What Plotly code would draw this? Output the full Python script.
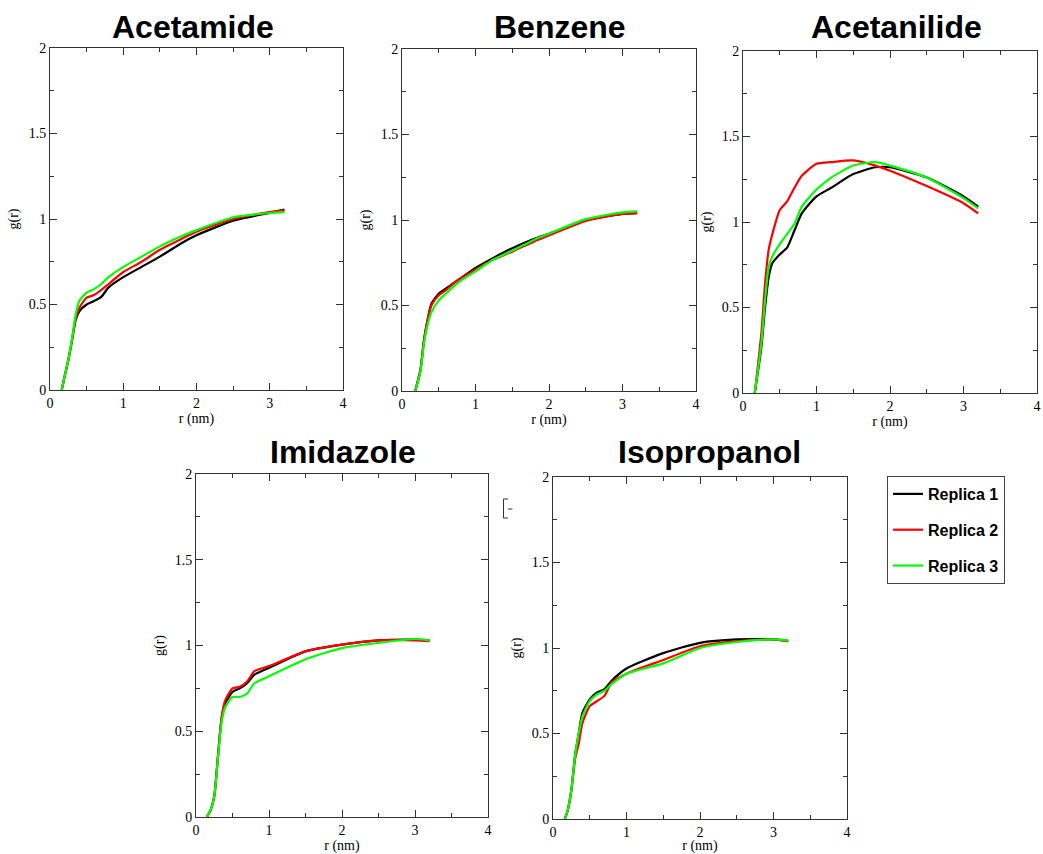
import plotly.graph_objects as go

W, H = 1043, 854

# ---------------- data ----------------
titles = ["Acetamide", "Benzene", "Acetanilide", "Imidazole", "Isopropanol"]
replica_names = ["Replica 1", "Replica 2", "Replica 3"]
replica_colors = ["#000000", "#ff0000", "#00ff00"]

acetamide_r = [0.16, 0.2, 0.25, 0.3, 0.35, 0.4, 0.5, 0.6, 0.7, 0.8, 1.0, 1.25, 1.5, 1.8, 2.0, 2.5, 3.0, 3.2]
acetamide_rep1 = [0, 0.08, 0.175, 0.29, 0.41, 0.46, 0.50, 0.52, 0.545, 0.60, 0.66, 0.72, 0.78, 0.86, 0.905, 0.99, 1.036, 1.055]
acetamide_rep2 = [0, 0.08, 0.175, 0.29, 0.42, 0.48, 0.54, 0.555, 0.585, 0.62, 0.69, 0.75, 0.82, 0.885, 0.925, 1.0, 1.04, 1.05]
acetamide_rep3 = [0, 0.08, 0.175, 0.30, 0.44, 0.52, 0.57, 0.59, 0.62, 0.66, 0.72, 0.78, 0.84, 0.90, 0.935, 1.01, 1.035, 1.04]

benzene_r = [0.18, 0.25, 0.3, 0.35, 0.4, 0.5, 0.6, 0.7, 0.8, 1.0, 1.25, 1.5, 1.8, 2.0, 2.5, 3.0, 3.2]
benzene_rep1 = [0, 0.12, 0.30, 0.42, 0.51, 0.57, 0.60, 0.63, 0.66, 0.72, 0.78, 0.835, 0.89, 0.92, 1.0, 1.035, 1.04]
benzene_rep2 = [0, 0.12, 0.30, 0.42, 0.50, 0.56, 0.59, 0.63, 0.66, 0.71, 0.77, 0.815, 0.875, 0.91, 0.995, 1.035, 1.04]
benzene_rep3 = [0, 0.11, 0.28, 0.39, 0.46, 0.53, 0.57, 0.61, 0.645, 0.70, 0.77, 0.82, 0.885, 0.92, 1.005, 1.045, 1.05]

acetanilide_r = [0.16, 0.25, 0.3, 0.35, 0.4, 0.5, 0.6, 0.7, 0.8, 1.0, 1.2, 1.5, 1.8, 2.0, 2.5, 3.0, 3.2]
acetanilide_rep1 = [0, 0.27, 0.50, 0.68, 0.76, 0.81, 0.85, 0.95, 1.05, 1.15, 1.20, 1.28, 1.32, 1.32, 1.26, 1.15, 1.09]
acetanilide_rep2 = [0, 0.35, 0.64, 0.84, 0.93, 1.07, 1.12, 1.20, 1.27, 1.34, 1.35, 1.36, 1.33, 1.30, 1.21, 1.11, 1.05]
acetanilide_rep3 = [0, 0.29, 0.54, 0.74, 0.80, 0.87, 0.93, 0.99, 1.09, 1.19, 1.26, 1.33, 1.35, 1.33, 1.26, 1.14, 1.08]

imidazole_r = [0.15, 0.2, 0.25, 0.3, 0.35, 0.4, 0.5, 0.6, 0.7, 0.8, 1.0, 1.5, 2.0, 2.5, 3.0, 3.2]
imidazole_rep1 = [0, 0.04, 0.12, 0.35, 0.57, 0.66, 0.73, 0.75, 0.78, 0.83, 0.87, 0.966, 1.005, 1.03, 1.034, 1.03]
imidazole_rep2 = [0, 0.04, 0.12, 0.35, 0.58, 0.68, 0.75, 0.76, 0.79, 0.85, 0.88, 0.966, 1.005, 1.03, 1.03, 1.025]
imidazole_rep3 = [0, 0.04, 0.12, 0.34, 0.55, 0.64, 0.70, 0.70, 0.72, 0.78, 0.82, 0.92, 0.985, 1.015, 1.038, 1.03]

isopropanol_r = [0.16, 0.2, 0.25, 0.3, 0.35, 0.4, 0.5, 0.6, 0.7, 0.8, 1.0, 1.5, 2.0, 2.5, 3.0, 3.2]
isopropanol_rep1 = [0, 0.05, 0.17, 0.37, 0.50, 0.62, 0.70, 0.74, 0.76, 0.81, 0.88, 0.97, 1.03, 1.05, 1.05, 1.04]
isopropanol_rep2 = [0, 0.05, 0.17, 0.35, 0.44, 0.56, 0.66, 0.69, 0.72, 0.80, 0.85, 0.93, 1.01, 1.04, 1.05, 1.04]
isopropanol_rep3 = [0, 0.05, 0.17, 0.37, 0.50, 0.60, 0.69, 0.73, 0.75, 0.79, 0.85, 0.91, 1.00, 1.035, 1.05, 1.045]

x_tick_vals = [0, 1, 2, 3, 4]
y_tick_vals = [0, 0.5, 1, 1.5, 2]
y_tick_text = ["0", "0.5", "1", "1.5", "2"]

panels = [
    (acetamide_r, [acetamide_rep1, acetamide_rep2, acetamide_rep3]),
    (benzene_r, [benzene_rep1, benzene_rep2, benzene_rep3]),
    (acetanilide_r, [acetanilide_rep1, acetanilide_rep2, acetanilide_rep3]),
    (imidazole_r, [imidazole_rep1, imidazole_rep2, imidazole_rep3]),
    (isopropanol_r, [isopropanol_rep1, isopropanol_rep2, isopropanol_rep3]),
]

# ---------------- layout (pixel boxes of each panel, screen coords) ----------------
boxes = [  # left, right, top, bottom in pixels
    (50, 343, 48, 390),
    (402, 696, 49, 391),
    (743, 1037, 51, 393),
    (196, 488, 474, 817),
    (553, 847, 477, 819),
]
title_pos = [(193, 27), (560, 27), (896, 27), (343, 452), (709, 452)]

def px(x):
    return x / W

def py(y):
    return 1 - y / H

fig = go.Figure()
serif = "Liberation Serif, Times New Roman, serif"
sans = "Liberation Sans, Arial, Helvetica, sans-serif"
axcol = "#333333"

for i, (r, reps) in enumerate(panels):
    sfx = "" if i == 0 else str(i + 1)
    for j, vals in enumerate(reps):
        fig.add_trace(go.Scatter(
            x=r, y=vals, mode="lines",
            line=dict(color=replica_colors[j], width=2.2, shape="spline", smoothing=0.6),
            name=f"<b>{replica_names[j]}</b>", legendgroup=f"g{j}",
            showlegend=(i == 0),
            xaxis="x" + sfx, yaxis="y" + sfx,
        ))
    l, rgt, t, b = boxes[i]
    common = dict(showline=True, linecolor=axcol, linewidth=1, mirror="ticks",
                  ticks="inside", tickcolor=axcol, ticklen=7, tickwidth=1,
                  showgrid=False, zeroline=False, automargin=False,
                  tickfont=dict(family=serif, size=14, color="#000000"))
    fig.layout["xaxis" + sfx] = dict(
        common, domain=[px(l), px(rgt)], range=[0, 4], anchor="y" + sfx,
        tickvals=x_tick_vals,
        minor=dict(ticks="inside", ticklen=4, dtick=0.5, tickcolor=axcol, showgrid=False),
        title=dict(text="r (nm)", font=dict(family=serif, size=14, color="#000000"), standoff=0),
    )
    fig.layout["yaxis" + sfx] = dict(
        common, domain=[py(b), py(t)], range=[0, 2], anchor="x" + sfx,
        tickvals=y_tick_vals, ticktext=y_tick_text,
        minor=dict(ticks="inside", ticklen=4, dtick=0.25, tickcolor=axcol, showgrid=False),
        title=dict(text="g(r)", font=dict(family=serif, size=14, color="#000000"), standoff=6),
    )
    tx, ty = title_pos[i]
    fig.add_annotation(text=f"<b>{titles[i]}</b>", x=px(tx), y=py(ty), xref="paper", yref="paper",
                       xanchor="center", yanchor="middle", showarrow=False,
                       font=dict(family=sans, size=32, color="#000000"))

# small bracket remnant visible in the reference
fig.add_shape(type="path", xref="paper", yref="paper",
              path=f"M {px(508)},{py(499)} L {px(503.5)},{py(499)} L {px(503.5)},{py(518)} L {px(508)},{py(518)}",
              line=dict(color="#333333", width=1))
fig.add_shape(type="line", xref="paper", yref="paper",
              x0=px(508), x1=px(512.5), y0=py(509), y1=py(509),
              line=dict(color="#999999", width=2))

fig.update_layout(
    width=W, height=H,
    margin=dict(l=0, r=0, t=0, b=0),
    paper_bgcolor="white", plot_bgcolor="white",
    showlegend=True,
    legend=dict(x=px(887), y=py(476), xanchor="left", yanchor="top",
                bordercolor="#444444", borderwidth=1, bgcolor="white",
                font=dict(family=sans, size=16, color="#000000"),
                tracegroupgap=12, itemwidth=30),
)

fig.write_html("out.html",
               config={"displayModeBar": False},
               post_script="document.body.style.margin='0';document.body.style.overflow='hidden';")
